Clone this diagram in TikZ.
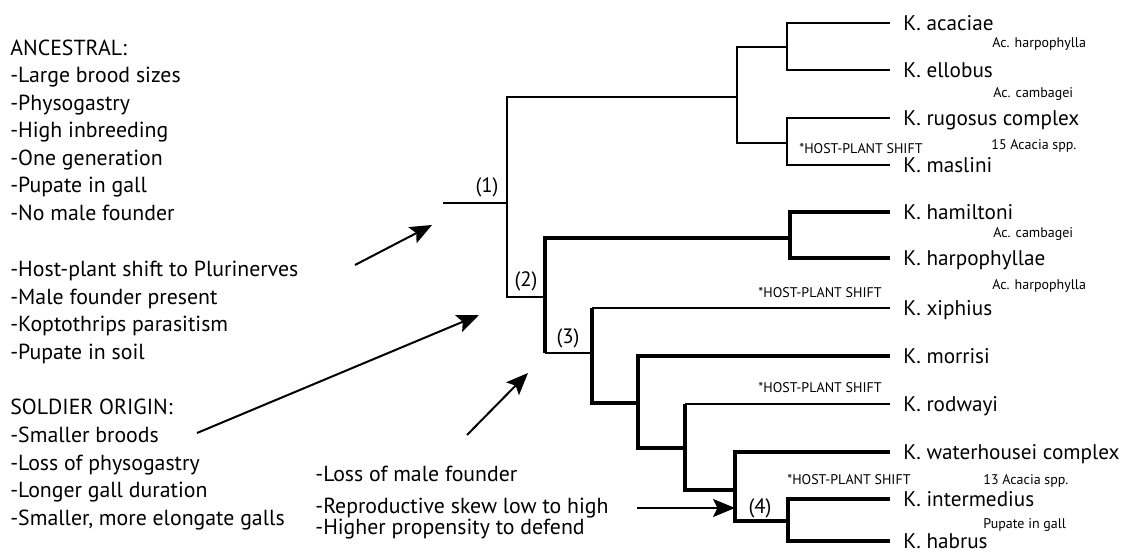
\documentclass[tikz,border=0pt]{standalone}
\usepackage{fontspec}
\setmainfont{PT Sans}
\usetikzlibrary{arrows.meta}

\begin{document}
\begin{tikzpicture}[x=0.5pt, y=-0.5pt,
    thinbranch/.style={line width=1pt},
    thickbranch/.style={line width=2.3pt},
    pointer/.style={line width=1pt, -{Stealth[length=11pt, width=9pt, inset=2.2pt]}},
    trait/.style={anchor=base west, inner sep=0pt, font=\fontsize{10.9}{12}\selectfont},
    tip/.style={anchor=west, inner xsep=6.5pt, inner ysep=0pt, text height=7.4pt, text depth=0pt, font=\fontsize{10.6}{12}\selectfont},
    hostplant/.style={anchor=west, inner sep=0pt, text height=4.9pt, text depth=0pt, font=\fontsize{7}{8}\selectfont},
    clade/.style={inner sep=0pt, font=\fontsize{10.4}{12}\selectfont}]
    \useasboundingbox (0,0) rectangle (1130,555);

    % Character states on the left
    \foreach \i/\t in {0/ANCESTRAL:, 1/-Large brood sizes, 2/-Physogastry, 3/-High inbreeding, 4/-One generation, 5/-Pupate in gall, 6/-No male founder} {
      \node[trait] (anc\i) at (10,{55.5+27.5*\i}) {\t};
    }
    \foreach \i/\t in {0/-Host-plant shift to Plurinerves, 1/-Male founder present, 2/-Koptothrips parasitism, 3/-Pupate in soil} {
      \node[trait] (plur\i) at (10,{276.5+27.6*\i}) {\t};
    }
    \foreach \i/\t in {0/SOLDIER ORIGIN:, 1/-Smaller broods, 2/-Loss of physogastry, 3/-Longer gall duration, 4/{-Smaller, more elongate galls}} {
      \node[trait] (sold\i) at (10,{414.5+27.8*\i}) {\t};
    }
    \node[trait] (loss) at (315,481) {-Loss of male founder};
    \node[trait] (skew) at (315,514) {-Reproductive skew low to high};
    \node[trait] (defend) at (315,535) {-Higher propensity to defend};

    % Tips
    \foreach \n/\y/\t in {acaciae/23/K. acaciae, ellobus/70/K. ellobus, rugosus/118/K. rugosus complex, maslini/165/K. maslini, hamiltoni/212/K. hamiltoni, harpophyllae/258/K. harpophyllae, xiphius/308/K. xiphius, morrisi/356/K. morrisi, rodwayi/404/K. rodwayi, waterhousei/452/K. waterhousei complex, intermedius/499/K. intermedius, habrus/541/K. habrus} {
      \node[tip] (\n) at (890,\y) {\t};
    }

    % Host plants
    \foreach \n/\x/\y/\t in {hA/992/43/Ac. harpophylla, hB/993/93/Ac. cambagei, hC/991/145/15 Acacia spp., hD/993/233/Ac. cambagei, hE/992/285/Ac. harpophylla, hF/983/480/13 Acacia spp., hG/983/524/Pupate in gall} {
      \node[hostplant] (\n) at (\x,\y) {\t};
    }
    \node[hostplant] (shift1) at (799,149) {*HOST-PLANT SHIFT};
    \node[hostplant, anchor=east] (shift2) at (882,293) {*HOST-PLANT SHIFT};
    \node[hostplant, anchor=east] (shift3) at (882,388) {*HOST-PLANT SHIFT};
    \node[hostplant] (shift4) at (787,480) {*HOST-PLANT SHIFT};

    % Internal nodes
    \coordinate (root) at (443,203);
    \coordinate (n1) at (507,203);
    \coordinate (nA) at (737,97);
    \coordinate (nB) at (787,47);
    \coordinate (nC) at (787,143);
    \coordinate (n2) at (545,297);
    \coordinate (nD) at (790,238);
    \coordinate (n3) at (592,353);
    \coordinate (nE) at (638,403);
    \coordinate (nF) at (685,448);
    \coordinate (n4) at (735,490);
    \coordinate (nG) at (788,521);

    % Thin branches
    \draw[thinbranch] (root) -- (n1);
    \draw[thinbranch] (n1) |- (nA);
    \draw[thinbranch] (n1) |- (n2);
    \draw[thinbranch] (nA) |- (nB);
    \draw[thinbranch] (nA) |- (nC);
    \foreach \p/\c in {nB/acaciae, nB/ellobus, nC/rugosus, nC/maslini} {
      \draw[thinbranch] (\p) |- (\c.west);
    }
    \draw[thinbranch] (n2 |- n3) -- (n3);
    \draw[thinbranch] (n3 |- xiphius.west) -- (xiphius.west);
    \draw[thinbranch] (nF |- rodwayi.west) -- (rodwayi.west);

    % Thick branches
    \draw[thickbranch] (n2) |- (nD);
    \draw[thickbranch] (n2) -- (n2 |- n3);
    \draw[thickbranch] (n3) -- (n3 |- xiphius.west);
    \draw[thickbranch] (n3) |- (nE);
    \draw[thickbranch] (nF) -- (nF |- rodwayi.west);
    \draw[thickbranch] (nE) |- (nF);
    \draw[thickbranch] (nF) |- (n4);
    \draw[thickbranch] (n4) |- (nG);
    \foreach \p/\c in {nD/hamiltoni, nD/harpophyllae, nE/morrisi, n4/waterhousei, nG/intermedius, nG/habrus} {
      \draw[thickbranch] (\p) |- (\c.west);
    }

    % Clade numbers
    \node[clade] (c1) at (487,187) {(1)};
    \node[clade] (c2) at (526,281) {(2)};
    \node[clade] (c3) at (568,338) {(3)};
    \node[clade] (c4) at (760,508) {(4)};

    % Arrows
    \coordinate (ancfrom) at (355,265);
    \coordinate (ancto) at (432,225);
    \coordinate (soldfrom) at (197,433);
    \coordinate (soldto) at (479,315);
    \coordinate (lossfrom) at (467,435);
    \coordinate (lossto) at (528,373);
    \coordinate (skewfrom) at (637,508);
    \coordinate (skewto) at (735,508);
    \draw[pointer] (ancfrom) -- (ancto);
    \draw[pointer] (soldfrom) -- (soldto);
    \draw[pointer] (lossfrom) -- (lossto);
    \draw[pointer] (skewfrom) -- (skewto);
  \end{tikzpicture}
\end{document}
